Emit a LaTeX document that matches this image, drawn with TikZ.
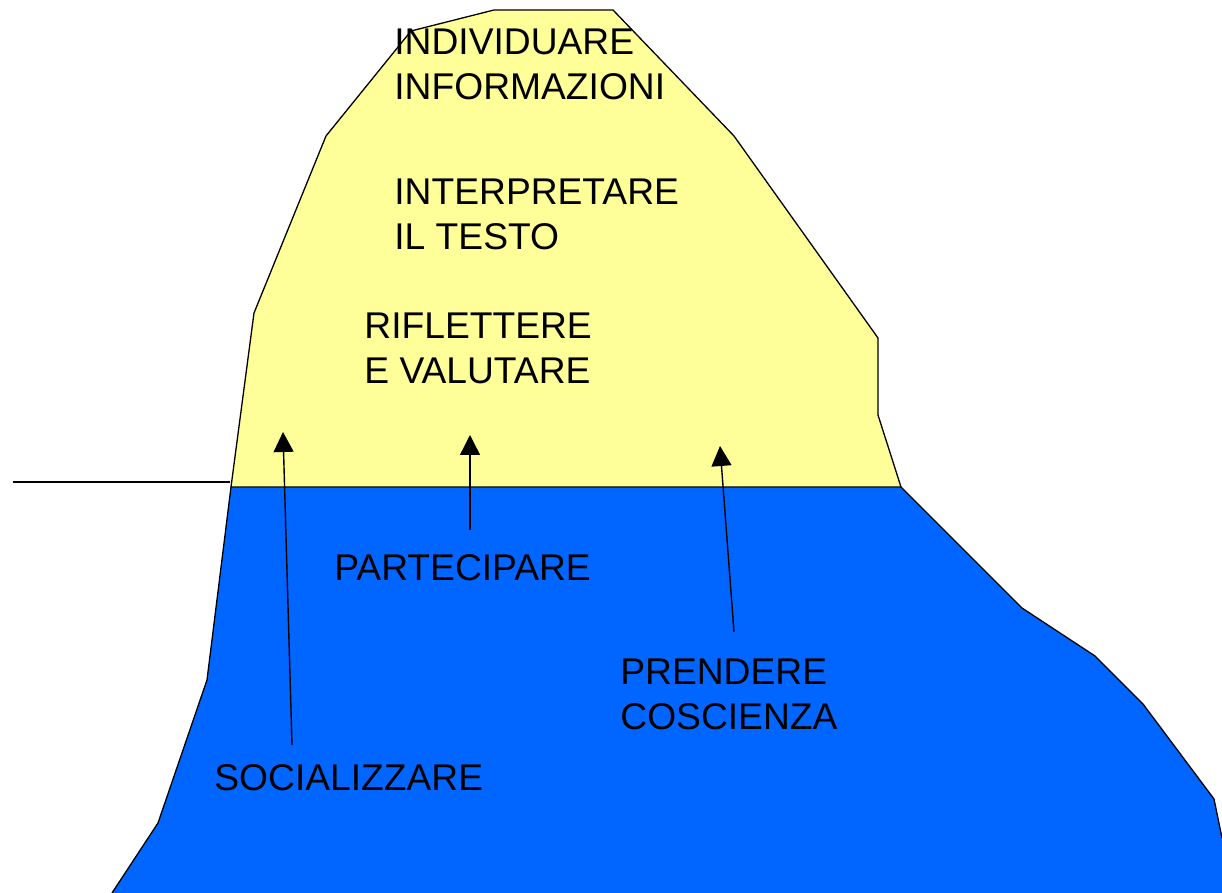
\documentclass[tikz,border=0pt]{standalone}
\usepackage{fontspec}
\setmainfont{Liberation Sans}
\usetikzlibrary{arrows.meta, positioning}
\definecolor{icetop}{RGB}{255,255,153}
\definecolor{icesea}{RGB}{0,102,255}

\begin{document}
\begin{tikzpicture}[x=0.5pt, y=-0.5pt,
    outline/.style={black, line width=0.65pt, line join=miter},
    lbl/.style={anchor=north west, inner sep=0pt, align=left,
                font=\fontsize{18.6}{22.5}\selectfont},
    uparrow/.style={-{Triangle[width=10pt, length=10pt]}, line width=0.7pt}]
    \useasboundingbox (0,0) rectangle (1222,893);

    % part under the water
    \fill[icesea] (231,487) -- (207,680) -- (158,823) -- (112,893)
        -- (1222,893) -- (1222,838) -- (1214,799) -- (1143,704)
        -- (1095,656) -- (1022,608) -- (901,487) -- cycle;
    \draw[outline] (112,893) -- (158,823) -- (207,680) -- (231,487);
    \draw[outline] (901,487) -- (1022,608) -- (1095,656) -- (1143,704)
        -- (1214,799) -- (1222,838);

    % part above the water
    \draw[outline, fill=icetop] (231,487) -- (254,313) -- (326,136)
        -- (411,31) -- (494,10) -- (613,10) -- (734,136) -- (878,338)
        -- (878,415) -- (901,487) -- cycle;

    % water line
    \coordinate (seaL) at (13,482);
    \coordinate (seaR) at (230,482);
    \draw[black, line width=0.6pt] (seaL) -- (seaR);

    % labels
    \node[lbl] (info) at (394,29) {INDIVIDUARE\\INFORMAZIONI};
    \node[lbl] (testo) at (394,179) {INTERPRETARE\\IL TESTO};
    \node[lbl] (valuta) at (364,313) {RIFLETTERE\\E VALUTARE};
    \node[lbl] (parte) at (334,554) {PARTECIPARE};
    \node[lbl] (prende) at (620,659) {PRENDERE\\COSCIENZA};
    \node[lbl] (social) at (214,764) {SOCIALIZZARE};

    % arrows
    \coordinate (socFrom) at (292,745);
    \coordinate (socTo) at (283,432);
    \coordinate (partFrom) at (470,530);
    \coordinate (partTo) at (470,435);
    \coordinate (prenFrom) at (734,632);
    \coordinate (prenTo) at (720,446);
    \draw[uparrow] (socFrom) -- (socTo);
    \draw[uparrow] (partFrom) -- (partTo);
    \draw[uparrow] (prenFrom) -- (prenTo);
\end{tikzpicture}
\end{document}
